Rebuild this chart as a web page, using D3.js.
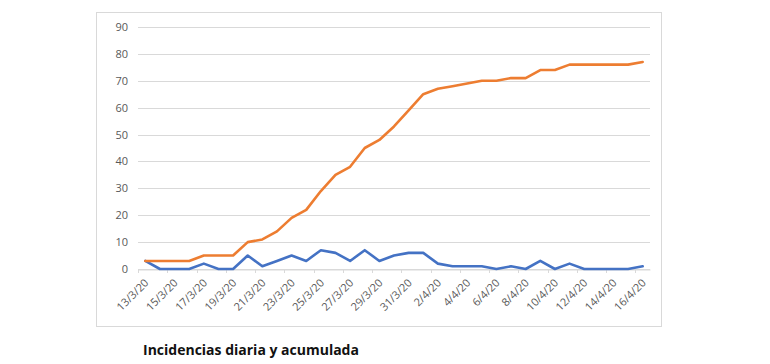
<!DOCTYPE html>
<html>
<head>
<meta charset="utf-8">
<script src="https://cdn.jsdelivr.net/npm/d3@7"></script>
<style>
  body { margin: 0; background: #fff; }
  svg { display: block; }
</style>
</head>
<body>
<div id="chart"></div>
<script>
// fechas 13/3/20 .. 16/4/20
const fechas = ["13/3/20","14/3/20","15/3/20","16/3/20","17/3/20","18/3/20","19/3/20","20/3/20","21/3/20","22/3/20",
  "23/3/20","24/3/20","25/3/20","26/3/20","27/3/20","28/3/20","29/3/20","30/3/20","31/3/20","1/4/20",
  "2/4/20","3/4/20","4/4/20","5/4/20","6/4/20","7/4/20","8/4/20","9/4/20","10/4/20","11/4/20",
  "12/4/20","13/4/20","14/4/20","15/4/20","16/4/20"];
const diaria = [3,0,0,0,2,0,0,5,1,3,5,3,7,6,3,7,3,5,6,6,2,1,1,1,0,1,0,3,0,2,0,0,0,0,1];
const acumulada = [3,3,3,3,5,5,5,10,11,14,19,22,29,35,38,45,48,53,59,65,67,68,69,70,70,71,71,74,74,76,76,76,76,76,77];
const yTicks = [0,10,20,30,40,50,60,70,80,90];
const titulo = "Incidencias diaria y acumulada";

const width = 770, height = 364;
const svg = d3.select("#chart").append("svg")
  .attr("width", width)
  .attr("height", height);

// marco del grafico
svg.append("rect")
  .attr("x", 96.5).attr("y", 12.5)
  .attr("width", 565).attr("height", 314)
  .attr("fill", "#fff")
  .attr("stroke", "#d9d9d9")
  .attr("stroke-width", 1);

const plot = {left: 138, right: 650, top: 27, bottom: 269};

const x = d3.scaleBand()
  .domain(fechas)
  .range([plot.left, plot.right]);
const y = d3.scaleLinear()
  .domain([0, 90])
  .range([plot.bottom, plot.top]);

// lineas de cuadricula
svg.append("g")
  .selectAll("line")
  .data(yTicks)
  .enter()
  .append("line")
    .attr("x1", plot.left)
    .attr("x2", plot.right)
    .attr("y1", d => Math.round(y(d)) + 0.5)
    .attr("y2", d => Math.round(y(d)) + 0.5)
    .attr("stroke", "#d9d9d9")
    .attr("stroke-width", 1);

// eje y
const yAxis = svg.append("g")
  .attr("transform", `translate(${plot.left - 10},0)`)
  .call(d3.axisLeft(y).tickValues(yTicks).tickSize(0).tickPadding(0));
yAxis.select(".domain").remove();
yAxis.selectAll("text")
  .attr("fill", "#595959")
  .attr("font-family", "Open Sans, sans-serif")
  .attr("font-size", "11px");

// eje x
const xAxis = svg.append("g")
  .attr("transform", `translate(0,${Math.round(plot.bottom) + 0.5})`)
  .call(d3.axisBottom(x).tickValues(fechas.filter((d, i) => i % 2 === 0)).tickSize(0).tickPadding(0));
xAxis.select(".domain")
  .attr("stroke", "#d9d9d9");
xAxis.selectAll("text")
  .attr("fill", "#595959")
  .attr("font-family", "Open Sans, sans-serif")
  .attr("font-size", "11px")
  .attr("text-anchor", "end")
  .attr("dy", null)
  .attr("y", 0)
  .attr("transform", "translate(4,14) rotate(-45)");

// marcas de graduacion entre categorias
svg.append("g")
  .selectAll("line")
  .data(fechas.filter((d, i) => i % 2 === 0))
  .enter()
  .append("line")
    .attr("x1", d => Math.round(x(d)) + 0.5)
    .attr("x2", d => Math.round(x(d)) + 0.5)
    .attr("y1", plot.bottom)
    .attr("y2", plot.bottom + 4)
    .attr("stroke", "#d9d9d9");

const cx = d => x(d) + x.bandwidth() / 2;

const line = vals => d3.line()
  .x((d, i) => cx(fechas[i]))
  .y(d => y(d))(vals);

svg.append("path")
  .attr("d", line(diaria))
  .attr("fill", "none")
  .attr("stroke", "#4472c4")
  .attr("stroke-width", 2.6)
  .attr("stroke-linejoin", "round")
  .attr("stroke-linecap", "round");

svg.append("path")
  .attr("d", line(acumulada))
  .attr("fill", "none")
  .attr("stroke", "#ed7d31")
  .attr("stroke-width", 2.6)
  .attr("stroke-linejoin", "round")
  .attr("stroke-linecap", "round");

// titulo bajo el grafico
svg.append("text")
  .attr("x", 143)
  .attr("y", 355)
  .attr("font-family", "Open Sans, sans-serif")
  .attr("font-weight", "bold")
  .attr("font-size", "14px")
  .attr("fill", "#111")
  .text(titulo);
</script>
</body>
</html>
